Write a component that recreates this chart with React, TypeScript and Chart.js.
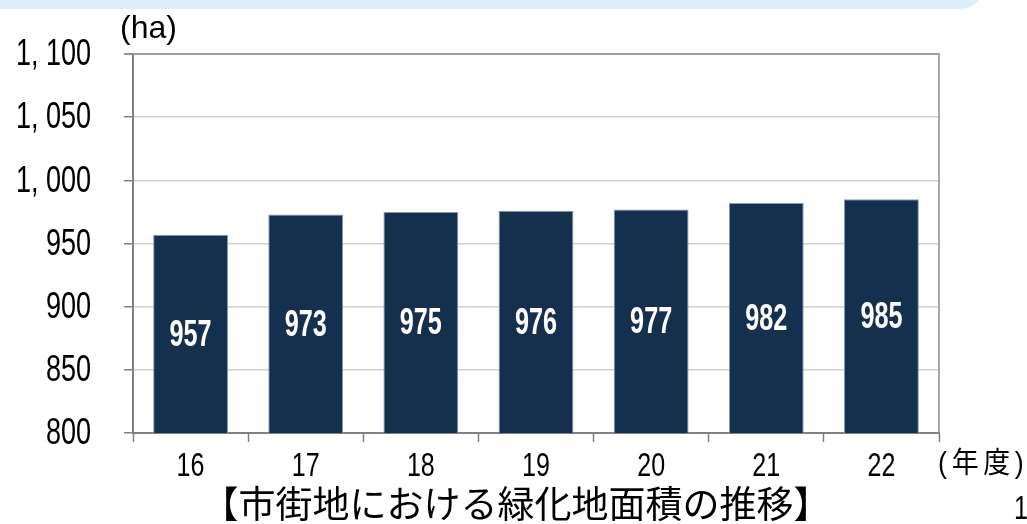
import React, { useEffect, useRef } from "react";
import { Chart, registerables } from "chart.js";

Chart.register(...registerables);

const years = ["16", "17", "18", "19", "20", "21", "22"];
const greenArea = [957, 973, 975, 976, 977, 982, 985];
const yMin = 800;
const yMax = 1100;
const yStep = 50;
const unitLabel = "(ha)";
const xUnitLabel = "(年度)";
const titleText = "【市街地における緑化地面積の推移】";
const pageNumber = "1";

const SANS = '"Liberation Sans", Arial, sans-serif';
const CJK = '"Noto Sans CJK JP", "Noto Sans", sans-serif';
const BAR_COLOR = "#15304f";

const fmt = (v: number) => {
  const s = String(v);
  return s.length > 3 ? s.slice(0, s.length - 3) + ", " + s.slice(-3) : s;
};

// draw horizontally condensed text
function narrowText(
  ctx: CanvasRenderingContext2D,
  text: string,
  x: number,
  y: number,
  font: string,
  align: "left" | "right" | "center",
  sx: number,
  spacing = 0
) {
  ctx.save();
  ctx.font = font;
  ctx.textBaseline = "middle";
  ctx.textAlign = align;
  (ctx as any).letterSpacing = `${spacing}px`;
  ctx.translate(x, y);
  ctx.scale(sx, 1);
  ctx.fillText(text, 0, 0);
  ctx.restore();
}

const decorPlugin = {
  id: "decor",
  beforeDraw(chart: any) {
    const ctx = chart.ctx;
    ctx.save();
    ctx.fillStyle = "#ffffff";
    ctx.fillRect(0, 0, chart.width, chart.height);
    ctx.fillStyle = "#dbeef8";
    ctx.beginPath();
    ctx.roundRect(-30, -40, 1013, 49, 22);
    ctx.fill();
    ctx.restore();
  },
  afterDraw(chart: any) {
    const ctx: CanvasRenderingContext2D = chart.ctx;
    const a = chart.chartArea;
    const xs = chart.scales.x;
    const ys = chart.scales.y;

    // frame top & right
    ctx.save();
    ctx.strokeStyle = "#8c8c8c";
    ctx.lineWidth = 1.5;
    ctx.beginPath();
    ctx.moveTo(a.left - 9, a.top);
    ctx.lineTo(a.right, a.top);
    ctx.lineTo(a.right, a.bottom);
    ctx.stroke();
    ctx.restore();

    // bar value labels
    ctx.fillStyle = "#ffffff";
    const data = chart.data.datasets[0].data as number[];
    data.forEach((v: number, i: number) => {
      const x = xs.getPixelForValue(i);
      const yTop = ys.getPixelForValue(v);
      const yBase = ys.getPixelForValue(yMin);
      narrowText(ctx, String(v), x, (yTop + yBase) / 2 + 2, `bold 36px ${SANS}`, "center", 0.7);
    });

    ctx.fillStyle = "#000000";
    // y tick labels
    ys.ticks.forEach((t: any) => {
      const y = ys.getPixelForValue(t.value);
      narrowText(ctx, fmt(t.value), 91, y + 1, `37px ${SANS}`, "right", 0.73);
    });
    // x tick labels
    (chart.data.labels as string[]).forEach((lab: string, i: number) => {
      narrowText(ctx, lab, xs.getPixelForValue(i), 467, `33px ${SANS}`, "center", 0.76);
    });

    ctx.save();
    ctx.fillStyle = "#000000";
    ctx.textBaseline = "middle";
    ctx.textAlign = "left";
    ctx.font = `32px ${SANS}`;
    ctx.fillText(unitLabel, 120, 29);
    ctx.restore();
    narrowText(ctx, xUnitLabel, 938, 465, `29px ${SANS}, ${CJK}`, "left", 0.93, 5);
    narrowText(ctx, pageNumber, 1014, 510, `33px ${SANS}`, "left", 0.76);

    ctx.save();
    ctx.fillStyle = "#000000";
    ctx.textBaseline = "middle";
    ctx.textAlign = "center";
    ctx.font = `37px ${CJK}`;
    ctx.fillText(titleText, 516, 504);
    ctx.restore();
  },
};

export default function App() {
  const ref = useRef<HTMLCanvasElement | null>(null);

  useEffect(() => {
    if (!ref.current) return;
    const chart = new Chart(ref.current, {
      type: "bar",
      data: {
        labels: years,
        datasets: [
          {
            data: greenArea,
            backgroundColor: BAR_COLOR,
            borderColor: "#8797ad",
            borderWidth: 1,
            barPercentage: 0.65,
            categoryPercentage: 1,
          },
        ],
      },
      options: {
        responsive: false,
        animation: false,
        devicePixelRatio: 1,
        layout: { padding: { top: 54, right: 88, left: 0, bottom: 0 } },
        plugins: { legend: { display: false }, tooltip: { enabled: false } },
        scales: {
          x: {
            grid: {
              offset: true,
              drawOnChartArea: false,
              drawTicks: true,
              tickLength: 9,
              tickColor: "#808080",
              tickWidth: 1.5,
            },
            border: { color: "#808080", width: 2 },
            ticks: { display: false },
            afterFit: (s: any) => {
              s.height = 91;
            },
          },
          y: {
            min: yMin,
            max: yMax,
            ticks: { stepSize: yStep, display: false },
            grid: {
              color: "#d0d0d0",
              lineWidth: 1.5,
              tickColor: "#808080",
              tickLength: 9,
              tickWidth: 1.5,
            },
            border: { color: "#808080", width: 2 },
            afterFit: (s: any) => {
              s.width = 133;
            },
          },
        },
      },
      plugins: [decorPlugin],
    });
    return () => chart.destroy();
  }, []);

  return (
    <canvas
      ref={ref}
      width={1027}
      height={524}
      style={{ position: "absolute", left: 0, top: 0, width: 1027, height: 524 }}
    />
  );
}
